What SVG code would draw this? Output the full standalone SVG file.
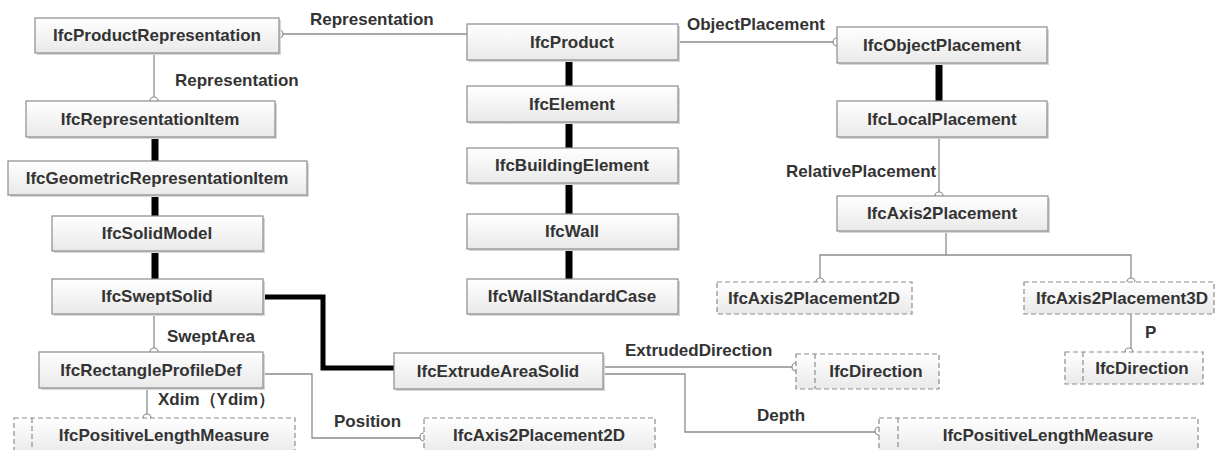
<svg xmlns="http://www.w3.org/2000/svg" width="1216" height="450" viewBox="0 0 1216 450">
<defs>
<linearGradient id="g" x1="0" y1="0" x2="0" y2="1">
<stop offset="0" stop-color="#ffffff"/>
<stop offset="1" stop-color="#e9e9e9"/>
</linearGradient>
<style>
.box{fill:url(#g);stroke:#8c8c8c;stroke-width:1.2}
.dbox{fill:url(#g);stroke:#8c8c8c;stroke-width:1.2;stroke-dasharray:5 3}
.dl{stroke:#8c8c8c;stroke-width:1.2;stroke-dasharray:5 3}
.sh{fill:#d6d6d6}
.t{font-family:"Liberation Sans",Arial,sans-serif;font-weight:bold;font-size:17px;fill:#333;text-anchor:middle}
.lb{font-family:"Liberation Sans",Arial,sans-serif;font-weight:bold;font-size:17px;fill:#333}
.thin{fill:none;stroke:#8c8c8c;stroke-width:1.3}
.thick{fill:none;stroke:#000;stroke-width:7}
.thick5{fill:none;stroke:#000;stroke-width:5}
.c{fill:#fff;stroke:#8c8c8c;stroke-width:1.2}
</style>
</defs>
<rect width="1216" height="450" fill="#fff"/>
<g id="connectors">
<path class="thin" d="M279,34 H467"/>
<circle class="c" cx="279" cy="34" r="4"/>
<path class="thin" d="M154,53 V101"/>
<circle class="c" cx="154" cy="101" r="4"/>
<path class="thick" d="M155,137 V161 M155,195 V216 M155,251 V279"/>
<path class="thick" d="M569,60 V86 M569,122 V148 M569,183 V214 M569,249 V279"/>
<path class="thin" d="M678,42 H837"/>
<circle class="c" cx="837" cy="42" r="4"/>
<path class="thick" d="M939,63 V101"/>
<path class="thin" d="M939,137 V196"/>
<circle class="c" cx="939" cy="196" r="4"/>
<path class="thin" d="M946,231 V255 M820,282 V255 H1131 V282"/>
<circle class="c" cx="820" cy="282" r="4"/>
<circle class="c" cx="1131" cy="282" r="4"/>
<path class="thin" d="M1131,314 V352"/>
<circle class="c" cx="1129" cy="352" r="4"/>
<path class="thick5" d="M263,297 H323 V368 H394"/>
<path class="thin" d="M154,314 V352"/>
<circle class="c" cx="154" cy="352" r="4"/>
<path class="thin" d="M147,388 V418"/>
<circle class="c" cx="147" cy="418" r="4"/>
<path class="thin" d="M263,374 H312 V438 H424"/>
<circle class="c" cx="424" cy="437" r="4"/>
<path class="thin" d="M603,367 H796"/>
<circle class="c" cx="796" cy="367" r="4"/>
<path class="thin" d="M603,374 H685 V432 H879"/>
<circle class="c" cx="879" cy="431" r="4"/>
<text class="lb" x="310" y="25">Representation</text>
<text class="lb" x="175" y="86">Representation</text>
<text class="lb" x="687" y="30">ObjectPlacement</text>
<text class="lb" x="786" y="177">RelativePlacement</text>
<text class="lb" x="1145" y="338">P</text>
<text class="lb" x="167" y="342">SweptArea</text>
<text class="lb" x="158" y="405">Xdim（Ydim）</text>
<text class="lb" x="334" y="427">Position</text>
<text class="lb" x="625" y="356">ExtrudedDirection</text>
<text class="lb" x="757" y="421">Depth</text>
</g>
<g id="n-productrep"><rect class="sh" x="37" y="20" width="244" height="35"/><rect class="box" x="35" y="18" width="244" height="35"/><text class="t" x="157" y="41">IfcProductRepresentation</text></g>
<g id="n-repitem"><rect class="sh" x="28" y="103" width="249" height="36"/><rect class="box" x="26" y="101" width="249" height="36"/><text class="t" x="150" y="125">IfcRepresentationItem</text></g>
<g id="n-georep"><rect class="sh" x="10" y="163" width="299" height="34"/><rect class="box" x="8" y="161" width="299" height="34"/><text class="t" x="157" y="184">IfcGeometricRepresentationItem</text></g>
<g id="n-solidmodel"><rect class="sh" x="54" y="218" width="211" height="35"/><rect class="box" x="52" y="216" width="211" height="35"/><text class="t" x="157" y="239">IfcSolidModel</text></g>
<g id="n-sweptsolid"><rect class="sh" x="54" y="281" width="211" height="35"/><rect class="box" x="52" y="279" width="211" height="35"/><text class="t" x="157" y="302">IfcSweptSolid</text></g>
<g id="n-rectprofile"><rect class="sh" x="41" y="354" width="224" height="36"/><rect class="box" x="39" y="352" width="224" height="36"/><text class="t" x="151" y="376">IfcRectangleProfileDef</text></g>
<g id="n-plm-left"><rect class="dbox" x="14" y="418" width="281" height="36"/><line class="dl" x1="32" y1="418" x2="32" y2="450"/><text class="t" x="164" y="441">IfcPositiveLengthMeasure</text></g>
<g id="n-product"><rect class="sh" x="469" y="26" width="211" height="36"/><rect class="box" x="467" y="24" width="211" height="36"/><text class="t" x="572" y="48">IfcProduct</text></g>
<g id="n-element"><rect class="sh" x="469" y="88" width="211" height="36"/><rect class="box" x="467" y="86" width="211" height="36"/><text class="t" x="572" y="110">IfcElement</text></g>
<g id="n-buildingelement"><rect class="sh" x="469" y="150" width="211" height="35"/><rect class="box" x="467" y="148" width="211" height="35"/><text class="t" x="572" y="171">IfcBuildingElement</text></g>
<g id="n-wall"><rect class="sh" x="469" y="216" width="211" height="35"/><rect class="box" x="467" y="214" width="211" height="35"/><text class="t" x="572" y="237">IfcWall</text></g>
<g id="n-wallstd"><rect class="sh" x="469" y="281" width="211" height="35"/><rect class="box" x="467" y="279" width="211" height="35"/><text class="t" x="572" y="302">IfcWallStandardCase</text></g>
<g id="n-extrude"><rect class="sh" x="396" y="355" width="209" height="36"/><rect class="box" x="394" y="353" width="209" height="36"/><text class="t" x="498" y="377">IfcExtrudeAreaSolid</text></g>
<g id="n-axis2d-bottom"><rect class="dbox" x="424" y="418" width="231" height="36"/><text class="t" x="539" y="441">IfcAxis2Placement2D</text></g>
<g id="n-objplacement"><rect class="sh" x="839" y="29" width="210" height="36"/><rect class="box" x="837" y="27" width="210" height="36"/><text class="t" x="942" y="51">IfcObjectPlacement</text></g>
<g id="n-localplacement"><rect class="sh" x="839" y="103" width="210" height="36"/><rect class="box" x="837" y="101" width="210" height="36"/><text class="t" x="942" y="125">IfcLocalPlacement</text></g>
<g id="n-axis2placement"><rect class="sh" x="839" y="198" width="211" height="35"/><rect class="box" x="837" y="196" width="211" height="35"/><text class="t" x="942" y="219">IfcAxis2Placement</text></g>
<g id="n-axis2d"><rect class="dbox" x="717" y="282" width="195" height="32"/><text class="t" x="814" y="304">IfcAxis2Placement2D</text></g>
<g id="n-axis3d"><rect class="dbox" x="1024" y="282" width="190" height="32"/><text class="t" x="1122" y="304">IfcAxis2Placement3D</text></g>
<g id="n-direction-mid"><rect class="dbox" x="796" y="354" width="143" height="35"/><line class="dl" x1="815" y1="354" x2="815" y2="389"/><text class="t" x="876" y="377">IfcDirection</text></g>
<g id="n-direction-right"><rect class="dbox" x="1065" y="352" width="138" height="32"/><line class="dl" x1="1083" y1="352" x2="1083" y2="384"/><text class="t" x="1142" y="374">IfcDirection</text></g>
<g id="n-plm-right"><rect class="dbox" x="879" y="418" width="319" height="36"/><line class="dl" x1="898" y1="418" x2="898" y2="450"/><text class="t" x="1048" y="441">IfcPositiveLengthMeasure</text></g>
</svg>
